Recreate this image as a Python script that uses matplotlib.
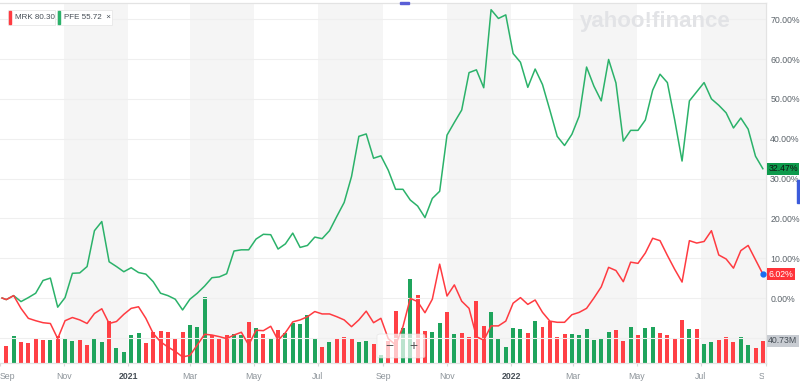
import pandas as pd
import matplotlib.pyplot as plt
from matplotlib.patches import Rectangle, FancyBboxPatch
from matplotlib.transforms import Bbox

# Datos: cambio % semanal (MRK vs PFE) y volumen de MRK
fechas = [pd.Timestamp("2020-09-03")] + list(pd.date_range("2020-09-07", "2022-08-29", freq="7D"))

pfe_pct = [0.0, -0.4, 0.6, -0.9, 0.1, 1.2, 4.4, 5.0, -2.3, 0.1,
           6.2, 6.3, 7.9, 16.9, 19.2, 9.1, 7.9, 6.6, 7.6, 6.4,
           6.0, 4.1, 1.2, 0.6, -0.3, -3.0, -0.3, 1.2, 3.0, 5.1,
           5.3, 6.1, 11.8, 12.1, 12.1, 14.8, 16.0, 15.9, 12.3, 13.6,
           16.3, 12.7, 13.2, 15.3, 14.9, 16.9, 20.5, 24.0, 30.5, 40.6,
           41.2, 35.1, 35.7, 32.1, 27.3, 27.3, 24.6, 23.1, 20.2, 25.0,
           26.8, 40.9, 44.1, 47.2, 56.6, 57.3, 52.8, 72.4, 70.2, 71.1,
           61.4, 59.2, 52.9, 57.5, 53.6, 47.2, 40.6, 38.3, 41.1, 45.7,
           58.0, 53.2, 49.5, 59.9, 54.0, 39.4, 42.1, 42.1, 44.7, 52.2,
           56.2, 54.1, 44.7, 34.4, 49.5, 51.8, 54.1, 50.0, 48.4, 46.5,
           42.7, 45.2, 42.4, 35.6, 32.47]

mrk_pct = [0.0, -0.4, 0.6, -2.6, -5.1, -5.7, -6.2, -6.4, -10.2, -5.7,
           -4.9, -5.5, -6.4, -3.9, -2.7, -6.4, -5.9, -4.1, -2.6, -2.2,
           -5.1, -8.9, -11.0, -12.3, -13.4, -14.8, -14.4, -11.8, -9.1, -9.3,
           -9.7, -10.2, -9.3, -8.6, -11.8, -8.1, -8.2, -7.1, -10.6, -8.7,
           -6.0, -5.5, -4.7, -3.4, -4.0, -4.0, -4.7, -5.5, -7.2, -5.5,
           -3.3, -6.2, -5.1, -10.2, -11.8, -7.2, -0.1, -0.9, -3.7, -0.3,
           8.5, 0.5, 3.3, -0.8, -2.6, -9.7, -10.6, -7.0, -7.0, -5.8,
           -1.3, 0.1, -1.6, -0.5, -3.6, -5.8, -6.1, -6.1, -4.2, -3.6,
           -2.6, 0.0, 2.8, 7.7, 6.9, 4.1, 9.0, 8.7, 11.3, 15.0,
           14.4, 10.7, 7.2, 4.0, 14.4, 13.8, 14.2, 16.9, 10.8, 9.8,
           7.5, 11.9, 13.2, 9.6, 6.02]

# volumen MRK (millones), una barra por semana desde la segunda fecha
mrk_vol_m = [31.6, 49.9, 39.6, 37.8, 43.8, 42.5, 42.5, 49.9, 45.7, 40.7,
             42.5, 33.4, 46.9, 39.6, 77.2, 28.7, 21.4, 51.7, 54.8, 37.8,
             56.6, 59.7, 56.6, 45.7, 57.9, 69.4, 65.7, 121.1, 52.4, 44.2,
             51.7, 53.3, 52.4, 76.1, 63.9, 54.2, 46.9, 60.3, 54.8, 73.0,
             71.8, 88.2, 46.9, 28.9, 38.0, 43.8, 47.5, 46.9, 38.3, 41.4,
             34.7, 15.2, 40.2, 96.2, 63.9, 153.4, 124.7, 59.0, 56.6, 74.3,
             93.1, 53.0, 54.8, 48.8, 113.8, 68.8, 94.4, 44.4, 30.5, 63.9,
             62.6, 56.1, 77.2, 67.0, 77.2, 47.5, 53.0, 53.5, 51.7, 62.6,
             42.5, 45.7, 57.9, 60.8, 41.4, 65.7, 51.7, 63.9, 65.7, 54.8,
             51.7, 44.4, 79.1, 62.6, 62.6, 35.2, 39.6, 42.5, 47.5, 39.6,
             47.5, 33.4, 28.7, 40.73]

semana_sube = [0, 1, 0, 0, 0, 0, 1, 0, 1, 1,
               0, 0, 1, 1, 0, 1, 1, 1, 1, 0,
               0, 0, 0, 0, 0, 1, 1, 1, 0, 0,
               0, 1, 1, 0, 1, 0, 1, 0, 1, 1,
               1, 1, 1, 0, 1, 0, 0, 0, 1, 1,
               0, 1, 0, 0, 1, 1, 0, 0, 1, 1,
               0, 1, 0, 0, 0, 0, 1, 1, 1, 1,
               1, 0, 1, 0, 0, 0, 0, 1, 1, 1,
               1, 1, 1, 0, 0, 1, 0, 1, 1, 0,
               0, 0, 0, 1, 0, 1, 1, 0, 0, 0,
               1, 1, 0, 0]

y_ticks = [-10, 0, 10, 20, 30, 40, 50, 60, 70]

# Colores
verde = "#2bb26a"
rojo = "#ff3b41"
verde_vol = "#1fa45c"
rojo_vol = "#ff4045"
gris_txt = "#5b636a"

plt.rcParams["font.family"] = ["Liberation Sans", "DejaVu Sans"]

fig = plt.figure(figsize=(8, 3.87), dpi=100)
axv = fig.add_axes([0, 0.0612, 0.9575, 0.9302])
ax = axv.twinx()
ax.set_zorder(axv.get_zorder() + 1)
ax.patch.set_visible(False)

inicio, fin = pd.Timestamp("2020-09-01"), pd.Timestamp("2022-09-01")
meses = pd.date_range(inicio, fin, freq="2MS")

# bandas grises alternas
for k in range(1, len(meses) - 1, 2):
    axv.axvspan(meses[k], meses[k + 1], color="#f5f5f5", lw=0, zorder=0)

# volumen
colores_vol = [verde_vol if s else rojo_vol for s in semana_sube]
axv.bar(fechas[1:], mrk_vol_m, width=3.8, color=colores_vol, zorder=2)
axv.set_ylim(0, 657)
axv.set_yticks([])

# lineas
ax.plot(fechas, pfe_pct, color=verde, lw=1.1, zorder=3)
ax.plot(fechas, mrk_pct, color=rojo, lw=1.1, zorder=3)
ax.plot(fechas[-1], mrk_pct[-1], "o", color="#1a6cf0", ms=3.5, zorder=4)

ax.set_xlim(inicio, fin)
ax.set_ylim(-16.4, 74.0)
ax.set_yticks(y_ticks)
ax.set_yticklabels(["" if v < 0 else f"{v:.2f}%" for v in y_ticks])
ax.grid(axis="y", color="#efefef", lw=0.8)
ax.tick_params(axis="y", length=0, pad=3, labelsize=6.3, labelcolor=gris_txt)

# eje x
etiquetas = []
for m in meses:
    etiquetas.append(str(m.year) if m.month == 1 else m.strftime("%b"))
axv.set_xticks(meses)
axv.set_xticklabels(etiquetas)
axv.tick_params(axis="x", length=2.2, color="#d8d8d8", pad=4, labelsize=6.3, labelcolor="#8d949a")
for lbl, m in zip(axv.get_xticklabels(), meses):
    if m.month == 1:
        lbl.set_fontweight("bold")
        lbl.set_color("#464e56")
lbls = axv.get_xticklabels()
lbls[0].set_horizontalalignment("left")
lbls[-1].set_clip_on(True)
lbls[-1].set_clip_box(Bbox([[0, 0], [764, 387]]))
ax.tick_params(axis="x", length=0)

for a in (ax, axv):
    a.spines["left"].set_visible(False)
    for s in ("top", "right", "bottom"):
        a.spines[s].set_color("#e3e3e3")
        a.spines[s].set_linewidth(0.8)

# etiquetas de valor en el eje derecho
trans = ax.get_yaxis_transform()
ax.text(1.003, pfe_pct[-1], f"{pfe_pct[-1]:.2f}%", transform=trans, ha="left", va="center",
        fontsize=6.3, color="#111111", clip_on=False,
        bbox=dict(boxstyle="square,pad=0.18", fc="#0e9a4c", ec="none"), zorder=6)
ax.text(1.003, mrk_pct[-1], f"{mrk_pct[-1]:.2f}%", transform=trans, ha="left", va="center",
        fontsize=6.3, color="white", clip_on=False,
        bbox=dict(boxstyle="square,pad=0.18", fc="#ff333a", ec="none"), zorder=6)
axv.text(1.003, mrk_vol_m[-1], f"{mrk_vol_m[-1]:.2f}M", transform=axv.get_yaxis_transform(),
         ha="left", va="center", fontsize=6.3, color="#464e56", clip_on=False,
         bbox=dict(boxstyle="square,pad=0.18", fc="#c8ccd2", ec="none"), zorder=6)

# leyenda tipo "chips"
for x0, ancho, col, txt in [(8, 47, rojo, "MRK 80.30"), (57, 55, verde, "PFE 55.72  \u00d7")]:
    fig.patches.append(FancyBboxPatch((x0 / 800, 1 - 25 / 387), ancho / 800, 15 / 387,
                                      boxstyle="square,pad=0", transform=fig.transFigure,
                                      fc="white", ec="#e8e8e8", lw=0.6, zorder=5))
    fig.patches.append(Rectangle(((x0 + 1) / 800, 1 - 24 / 387), 2 / 800, 13 / 387,
                                 transform=fig.transFigure, color=col, zorder=6))
    fig.text((x0 + 7) / 800, 1 - 17.5 / 387, txt, fontsize=5.8, color="#464e56",
             va="center", ha="left", zorder=7)

# marca de agua
fig.text(655 / 800, 1 - 22 / 387, "yahoo!finance", fontsize=16, fontweight="bold",
         color="#e2e3e6", ha="center", va="center", zorder=1)

# botones de zoom
fig.patches.append(FancyBboxPatch((377 / 800, 1 - 358 / 387), 48 / 800, 24 / 387,
                                  boxstyle="round,pad=0,rounding_size=0.005", transform=fig.transFigure,
                                  fc="white", ec="#dddddd", lw=0.5, alpha=0.7, zorder=8))
fig.text(389 / 800, 1 - 346 / 387, "\u2212", fontsize=10, color="#555555", ha="center", va="center", zorder=9)
fig.text(413 / 800, 1 - 346 / 387, "+", fontsize=10, color="#555555", ha="center", va="center", zorder=9)

# detalles azules de la interfaz
fig.patches.append(Rectangle((400 / 800, 1 - 3.5 / 387), 9 / 800, 1.5 / 387,
                             transform=fig.transFigure, color="#5a5fd6", zorder=9))
fig.patches.append(Rectangle((797 / 800, 1 - 203 / 387), 3 / 800, 23 / 387,
                             transform=fig.transFigure, color="#3b5bdb", zorder=9))

fig.savefig("out.png", dpi=100)
